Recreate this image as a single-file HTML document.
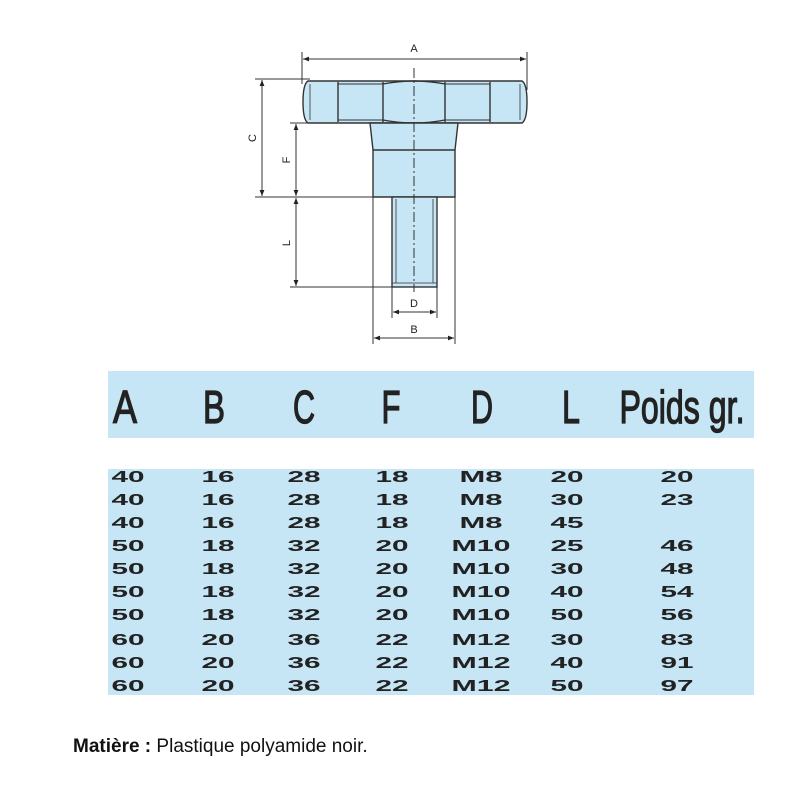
<!DOCTYPE html>
<html><head><meta charset="utf-8"><style>
html,body{margin:0;padding:0;background:#fff;width:800px;height:800px;overflow:hidden}
svg{display:block}
</style></head><body>
<svg width="800" height="800" viewBox="0 0 800 800" xmlns="http://www.w3.org/2000/svg" font-family="Liberation Sans, sans-serif">
<defs>
<marker id="ar" viewBox="0 0 10 10" refX="10" refY="5" markerWidth="8" markerHeight="6" orient="auto-start-reverse"><path d="M0,1 L10,5 L0,9 z" fill="#222"/></marker>
</defs>
<g stroke="#333" stroke-width="1.4" fill="#c6e5f5">
<path d="M308,81 L522,81 Q527,84 527,102 Q527,120 522,123 L308,123 Q303,120 303,102 Q303,84 308,81 Z"/>
<path d="M338,82 L338,122 M383,82 L383,122 M445,82 L445,122 M490,82 L490,122" fill="none"/>
<path d="M338,84 L383,84 M338,120 L383,120 M445,84 L490,84 M445,120 L490,120" fill="none" stroke-width="1"/>
<path d="M383,84 Q414,78 445,84 M383,120 Q414,126 445,120" fill="none"/>
<path d="M310,84 L310,120 M520,84 L520,120" fill="none" stroke-width="0.8"/>
<path d="M370,123 L458,123 L455,150 L455,197 L373,197 L373,150 Z"/>
<line x1="373" y1="150" x2="455" y2="150"/>
<rect x="392" y="197" width="45" height="90"/>
<line x1="396" y1="199" x2="396" y2="283" stroke-width="0.8"/>
<line x1="433" y1="199" x2="433" y2="283" stroke-width="0.8"/>
<line x1="392" y1="283" x2="437" y2="283" stroke-width="0.8"/>
</g>
<line x1="414" y1="68" x2="414" y2="292" stroke="#333" stroke-width="1" stroke-dasharray="10,3,2,3"/>
<g stroke="#333" stroke-width="1" fill="none">
<line x1="302" y1="52" x2="302" y2="84"/><line x1="527" y1="52" x2="527" y2="90"/>
<line x1="303" y1="59" x2="526" y2="59" marker-start="url(#ar)" marker-end="url(#ar)"/>
<line x1="255" y1="79" x2="310" y2="79"/>
<line x1="255" y1="197" x2="392" y2="197"/>
<line x1="290" y1="123" x2="310" y2="123"/>
<line x1="290" y1="287" x2="392" y2="287"/>
<line x1="262" y1="80" x2="262" y2="196" marker-start="url(#ar)" marker-end="url(#ar)"/>
<line x1="296" y1="124" x2="296" y2="196" marker-start="url(#ar)" marker-end="url(#ar)"/>
<line x1="296" y1="198" x2="296" y2="286" marker-start="url(#ar)" marker-end="url(#ar)"/>
<line x1="392" y1="287" x2="392" y2="318"/><line x1="437" y1="287" x2="437" y2="318"/>
<line x1="393" y1="312" x2="436" y2="312" marker-start="url(#ar)" marker-end="url(#ar)"/>
<line x1="373" y1="197" x2="373" y2="344"/><line x1="455" y1="197" x2="455" y2="344"/>
<line x1="374" y1="338" x2="454" y2="338" marker-start="url(#ar)" marker-end="url(#ar)"/>
</g>
<g font-size="11" fill="#222" text-anchor="middle">
<text x="414" y="52">A</text>
<text x="414" y="307">D</text>
<text x="414" y="333">B</text>
<text transform="translate(256,138) rotate(-90)">C</text>
<text transform="translate(290,160) rotate(-90)">F</text>
<text transform="translate(290,243) rotate(-90)">L</text>
</g>
<rect x="108" y="371" width="646" height="67" fill="#c6e5f5"/>
<rect x="108" y="469" width="646" height="226" fill="#c6e5f5"/>
<g font-size="46" fill="#222" stroke="#222" stroke-width="1.3" text-anchor="middle">
<text x="125" y="423" textLength="24" lengthAdjust="spacingAndGlyphs">A</text>
<text x="214" y="423" textLength="22" lengthAdjust="spacingAndGlyphs">B</text>
<text x="304" y="423" textLength="22" lengthAdjust="spacingAndGlyphs">C</text>
<text x="391" y="423" textLength="19" lengthAdjust="spacingAndGlyphs">F</text>
<text x="482" y="423" textLength="22" lengthAdjust="spacingAndGlyphs">D</text>
<text x="571" y="423" textLength="18" lengthAdjust="spacingAndGlyphs">L</text>
<text x="682" y="423" textLength="125" lengthAdjust="spacingAndGlyphs">Poids gr.</text>
</g>
<g font-size="16" font-weight="bold" fill="#222" text-anchor="middle">
<text x="128" y="482" textLength="33" lengthAdjust="spacingAndGlyphs">40</text><text x="218" y="482" textLength="33" lengthAdjust="spacingAndGlyphs">16</text><text x="304" y="482" textLength="33" lengthAdjust="spacingAndGlyphs">28</text><text x="392" y="482" textLength="33" lengthAdjust="spacingAndGlyphs">18</text><text x="481" y="482" textLength="43" lengthAdjust="spacingAndGlyphs">M8</text><text x="567" y="482" textLength="33" lengthAdjust="spacingAndGlyphs">20</text><text x="677" y="482" textLength="33" lengthAdjust="spacingAndGlyphs">20</text>
<text x="128" y="505" textLength="33" lengthAdjust="spacingAndGlyphs">40</text><text x="218" y="505" textLength="33" lengthAdjust="spacingAndGlyphs">16</text><text x="304" y="505" textLength="33" lengthAdjust="spacingAndGlyphs">28</text><text x="392" y="505" textLength="33" lengthAdjust="spacingAndGlyphs">18</text><text x="481" y="505" textLength="43" lengthAdjust="spacingAndGlyphs">M8</text><text x="567" y="505" textLength="33" lengthAdjust="spacingAndGlyphs">30</text><text x="677" y="505" textLength="33" lengthAdjust="spacingAndGlyphs">23</text>
<text x="128" y="528" textLength="33" lengthAdjust="spacingAndGlyphs">40</text><text x="218" y="528" textLength="33" lengthAdjust="spacingAndGlyphs">16</text><text x="304" y="528" textLength="33" lengthAdjust="spacingAndGlyphs">28</text><text x="392" y="528" textLength="33" lengthAdjust="spacingAndGlyphs">18</text><text x="481" y="528" textLength="43" lengthAdjust="spacingAndGlyphs">M8</text><text x="567" y="528" textLength="33" lengthAdjust="spacingAndGlyphs">45</text>
<text x="128" y="551" textLength="33" lengthAdjust="spacingAndGlyphs">50</text><text x="218" y="551" textLength="33" lengthAdjust="spacingAndGlyphs">18</text><text x="304" y="551" textLength="33" lengthAdjust="spacingAndGlyphs">32</text><text x="392" y="551" textLength="33" lengthAdjust="spacingAndGlyphs">20</text><text x="481" y="551" textLength="59" lengthAdjust="spacingAndGlyphs">M10</text><text x="567" y="551" textLength="33" lengthAdjust="spacingAndGlyphs">25</text><text x="677" y="551" textLength="33" lengthAdjust="spacingAndGlyphs">46</text>
<text x="128" y="574" textLength="33" lengthAdjust="spacingAndGlyphs">50</text><text x="218" y="574" textLength="33" lengthAdjust="spacingAndGlyphs">18</text><text x="304" y="574" textLength="33" lengthAdjust="spacingAndGlyphs">32</text><text x="392" y="574" textLength="33" lengthAdjust="spacingAndGlyphs">20</text><text x="481" y="574" textLength="59" lengthAdjust="spacingAndGlyphs">M10</text><text x="567" y="574" textLength="33" lengthAdjust="spacingAndGlyphs">30</text><text x="677" y="574" textLength="33" lengthAdjust="spacingAndGlyphs">48</text>
<text x="128" y="597" textLength="33" lengthAdjust="spacingAndGlyphs">50</text><text x="218" y="597" textLength="33" lengthAdjust="spacingAndGlyphs">18</text><text x="304" y="597" textLength="33" lengthAdjust="spacingAndGlyphs">32</text><text x="392" y="597" textLength="33" lengthAdjust="spacingAndGlyphs">20</text><text x="481" y="597" textLength="59" lengthAdjust="spacingAndGlyphs">M10</text><text x="567" y="597" textLength="33" lengthAdjust="spacingAndGlyphs">40</text><text x="677" y="597" textLength="33" lengthAdjust="spacingAndGlyphs">54</text>
<text x="128" y="620" textLength="33" lengthAdjust="spacingAndGlyphs">50</text><text x="218" y="620" textLength="33" lengthAdjust="spacingAndGlyphs">18</text><text x="304" y="620" textLength="33" lengthAdjust="spacingAndGlyphs">32</text><text x="392" y="620" textLength="33" lengthAdjust="spacingAndGlyphs">20</text><text x="481" y="620" textLength="59" lengthAdjust="spacingAndGlyphs">M10</text><text x="567" y="620" textLength="33" lengthAdjust="spacingAndGlyphs">50</text><text x="677" y="620" textLength="33" lengthAdjust="spacingAndGlyphs">56</text>
<text x="128" y="645" textLength="33" lengthAdjust="spacingAndGlyphs">60</text><text x="218" y="645" textLength="33" lengthAdjust="spacingAndGlyphs">20</text><text x="304" y="645" textLength="33" lengthAdjust="spacingAndGlyphs">36</text><text x="392" y="645" textLength="33" lengthAdjust="spacingAndGlyphs">22</text><text x="481" y="645" textLength="59" lengthAdjust="spacingAndGlyphs">M12</text><text x="567" y="645" textLength="33" lengthAdjust="spacingAndGlyphs">30</text><text x="677" y="645" textLength="33" lengthAdjust="spacingAndGlyphs">83</text>
<text x="128" y="668" textLength="33" lengthAdjust="spacingAndGlyphs">60</text><text x="218" y="668" textLength="33" lengthAdjust="spacingAndGlyphs">20</text><text x="304" y="668" textLength="33" lengthAdjust="spacingAndGlyphs">36</text><text x="392" y="668" textLength="33" lengthAdjust="spacingAndGlyphs">22</text><text x="481" y="668" textLength="59" lengthAdjust="spacingAndGlyphs">M12</text><text x="567" y="668" textLength="33" lengthAdjust="spacingAndGlyphs">40</text><text x="677" y="668" textLength="33" lengthAdjust="spacingAndGlyphs">91</text>
<text x="128" y="691" textLength="33" lengthAdjust="spacingAndGlyphs">60</text><text x="218" y="691" textLength="33" lengthAdjust="spacingAndGlyphs">20</text><text x="304" y="691" textLength="33" lengthAdjust="spacingAndGlyphs">36</text><text x="392" y="691" textLength="33" lengthAdjust="spacingAndGlyphs">22</text><text x="481" y="691" textLength="59" lengthAdjust="spacingAndGlyphs">M12</text><text x="567" y="691" textLength="33" lengthAdjust="spacingAndGlyphs">50</text><text x="677" y="691" textLength="33" lengthAdjust="spacingAndGlyphs">97</text>
</g>
<text x="73" y="752" font-size="19" fill="#111"><tspan font-weight="bold">Matière :</tspan> Plastique polyamide noir.</text>
</svg>
</body></html>
